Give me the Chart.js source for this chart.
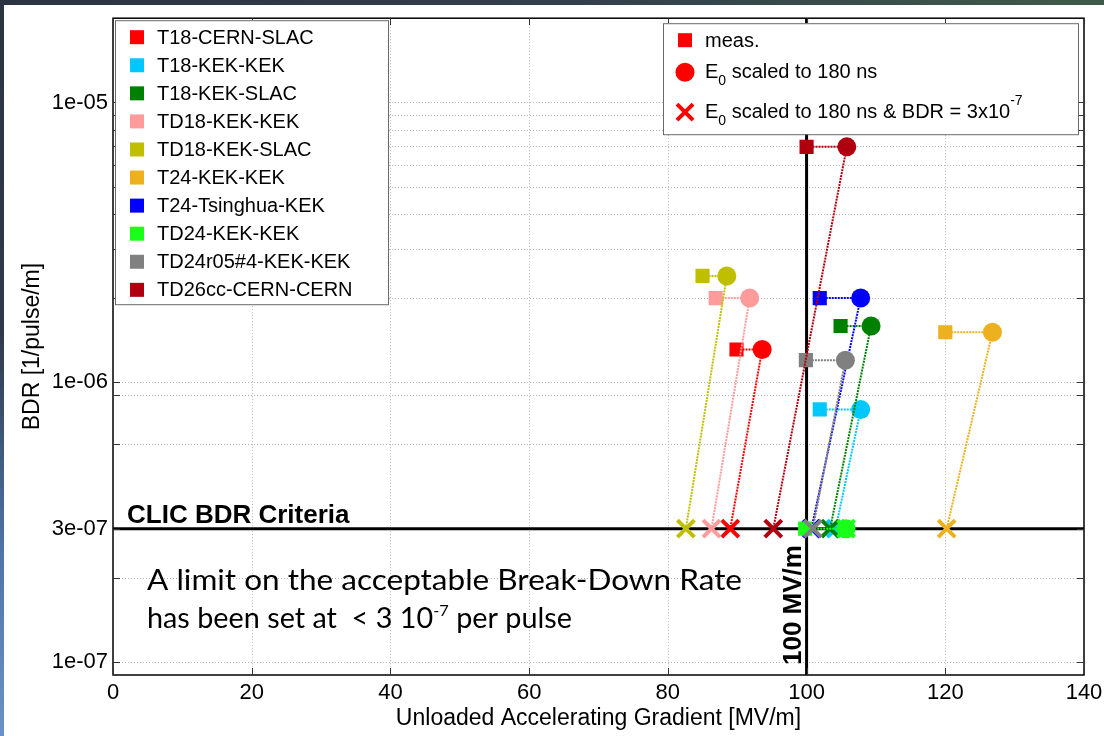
<!DOCTYPE html>
<html>
<head>
<meta charset="utf-8">
<title>BDR vs gradient</title>
<script src="https://cdn.jsdelivr.net/npm/chart.js@4.4.1/dist/chart.umd.min.js"></script>
<style>
  body { margin: 0; width: 1104px; height: 736px; overflow: hidden; position: relative;
         background: linear-gradient(to bottom, #2b3441 0%, #2e3a4a 45%, #4f74a8 75%, #6b92c8 100%); }
  #topstrip { position: absolute; left: 0; top: 0; width: 1104px; height: 5px;
              background: linear-gradient(to right, #2b3441 0%, #34404c 55%, #3f5a48 100%); }
  #panel { position: absolute; left: 4px; top: 5px; width: 1100px; height: 731px; background: #fff; }
  #wrap { position: absolute; left: 0; top: 0; width: 1104px; height: 736px; }
</style>
</head>
<body>
<div id="topstrip"></div>
<div id="panel"></div>
<div id="wrap"><canvas id="grafico" width="1104" height="736"></canvas></div>
<script>
// structures and their colours
const devices = ["T18-CERN-SLAC", "T18-KEK-KEK", "T18-KEK-SLAC", "TD18-KEK-KEK", "TD18-KEK-SLAC",
                 "T24-KEK-KEK", "T24-Tsinghua-KEK", "TD24-KEK-KEK", "TD24r05#4-KEK-KEK", "TD26cc-CERN-CERN"];
const deviceColors = ["#ff0000", "#00c8ff", "#008000", "#ff9b9b", "#bfbf00",
                      "#edb120", "#0000ff", "#1aff1a", "#808080", "#b00010"];

// measured gradient (squares), gradient scaled to 180 ns (circles), measured BDR
const measGradient   = [89.9, 101.9, 104.9, 86.9, 85.0, 120.0, 101.9, 99.8, 99.9, 100.0];
const scaledGradient = [93.6, 107.8, 109.3, 91.8, 88.5, 126.8, 107.8, 105.7, 105.6, 105.8];
const measBDR        = [1.31e-6, 8.0e-7, 1.59e-6, 2.0e-6, 2.4e-6, 1.51e-6, 2.0e-6, 3e-7, 1.2e-6, 6.94e-6];
// gradient scaled to 180 ns and BDR = 3e-7 (crosses)
const criteriaGradient = [89.0, 104.2, 103.4, 86.3, 82.6, 120.2, 100.7, 105.7, 100.9, 95.2];

const criteriaBDR = 3e-7;
const limitGradient = 100;
const xTicks = [0, 20, 40, 60, 80, 100, 120, 140];
const yLabelled = [1e-7, 3e-7, 1e-6, 1e-5];
const yGrid = [1e-7, 2e-7, 3e-7, 6e-7, 9e-7, 1e-6, 2e-6, 3e-6, 4e-6, 5e-6, 6e-6, 7e-6, 8e-6, 9e-6, 1e-5];
const xRange = [0, 140];
const yRange = [9e-8, 2e-5];

const FONT = '"Liberation Sans", Arial, sans-serif';
const BOXFONT = 'Lato, "Open Sans", sans-serif';

// later devices drawn on top (like the original plot)
const datasets = devices.map((name, i) => ({
    label: name,
    data: [
        { x: measGradient[i], y: measBDR[i] },
        { x: scaledGradient[i], y: measBDR[i] },
        { x: criteriaGradient[i], y: criteriaBDR }
    ],
    showLine: true,
    borderColor: deviceColors[i],
    backgroundColor: deviceColors[i],
    borderWidth: 2,
    borderDash: [2, 1],
    pointStyle: ["rect", "circle", "crossRot"],
    pointRadius: [10, 9.5, 12],
    pointBorderWidth: [0, 0, 4],
    pointBackgroundColor: deviceColors[i],
    pointBorderColor: deviceColors[i],
    order: devices.length - i
}));

// CLIC criteria and 100 MV/m lines
datasets.push({
    data: [{ x: xRange[0], y: criteriaBDR }, { x: xRange[1], y: criteriaBDR }],
    showLine: true, borderColor: "#000", borderWidth: 3, pointRadius: 0, order: 50
});
datasets.push({
    data: [{ x: limitGradient, y: yRange[0] }, { x: limitGradient, y: yRange[1] }],
    showLine: true, borderColor: "#000", borderWidth: 3, pointRadius: 0, order: 50
});

function fmtExp(v) {
    return v.toExponential(0).replace(/e([+-])(\d)$/, "e$10$2");
}

const marcoPlugin = {
    id: "marco",
    beforeDatasetsDraw(chart) {
        const ctx = chart.ctx, a = chart.chartArea;
        const xs = chart.scales.x, ys = chart.scales.y;
        ctx.save();
        ctx.strokeStyle = "#b4b4b4";
        ctx.lineWidth = 1;
        ctx.setLineDash([1, 2]);
        yGrid.forEach(v => {
            const y = Math.round(ys.getPixelForValue(v)) + 0.5;
            ctx.beginPath(); ctx.moveTo(a.left, y); ctx.lineTo(a.right, y); ctx.stroke();
        });
        xTicks.slice(1, -1).forEach(v => {
            const x = Math.round(xs.getPixelForValue(v)) + 0.5;
            ctx.beginPath(); ctx.moveTo(x, a.top); ctx.lineTo(x, a.bottom); ctx.stroke();
        });
        ctx.restore();
    },
    afterDraw(chart) {
        const ctx = chart.ctx, a = chart.chartArea;
        const xs = chart.scales.x, ys = chart.scales.y;
        ctx.save();
        // axes box and inner ticks
        ctx.strokeStyle = "#000";
        ctx.lineWidth = 1.5;
        ctx.strokeRect(a.left, a.top, a.right - a.left, a.bottom - a.top);
        ctx.lineWidth = 1;
        ctx.strokeStyle = "#333";
        yGrid.forEach(v => {
            const y = Math.round(ys.getPixelForValue(v)) + 0.5;
            ctx.beginPath();
            ctx.moveTo(a.left, y); ctx.lineTo(a.left + 7, y);
            ctx.moveTo(a.right, y); ctx.lineTo(a.right - 7, y);
            ctx.stroke();
        });
        xTicks.forEach(v => {
            const x = Math.round(xs.getPixelForValue(v)) + 0.5;
            ctx.beginPath();
            ctx.moveTo(x, a.bottom); ctx.lineTo(x, a.bottom - 7);
            ctx.moveTo(x, a.top); ctx.lineTo(x, a.top + 7);
            ctx.stroke();
        });

        // annotations
        const yc = ys.getPixelForValue(criteriaBDR);
        const xl = xs.getPixelForValue(limitGradient);
        ctx.fillStyle = "#000";
        ctx.font = "bold 26px " + FONT;
        ctx.textBaseline = "alphabetic";
        ctx.textAlign = "left";
        ctx.fillText("CLIC BDR Criteria", a.left + 14, yc - 6);

        ctx.save();
        ctx.translate(xl - 6, a.bottom - 10);
        ctx.rotate(-Math.PI / 2);
        ctx.font = "bold 26px " + FONT;
        ctx.fillText("100 MV/m", 0, 0);
        ctx.restore();

        // text box
        const tx = a.left + 34;
        const line1 = "A limit on the acceptable Break-Down Rate";
        ctx.save();
        ctx.font = "28px " + BOXFONT;
        ctx.translate(tx, 0);
        ctx.scale(595 / ctx.measureText(line1).width, 1);
        ctx.fillText(line1, 0, 590);
        ctx.restore();

        ctx.save();
        const p1 = "has been set at  < 3 10", p2 = "-7", p3 = " per pulse";
        ctx.font = "28px " + BOXFONT;
        const w1 = ctx.measureText(p1).width, w3 = ctx.measureText(p3).width;
        ctx.font = "16px " + BOXFONT;
        const w2 = ctx.measureText(p2).width;
        ctx.translate(tx, 0);
        ctx.scale(425 / (w1 + w2 + w3), 1);
        ctx.font = "28px " + BOXFONT;
        ctx.fillText(p1, 0, 628);
        ctx.fillText(p3, w1 + w2, 628);
        ctx.font = "16px " + BOXFONT;
        ctx.fillText(p2, w1, 616);
        ctx.restore();

        // device legend
        const lx = a.left + 2, ly = a.top + 2, lw = 273, lh = 284;
        ctx.fillStyle = "#fff";
        ctx.fillRect(lx, ly, lw, lh);
        ctx.strokeStyle = "#6a6a6a";
        ctx.lineWidth = 1;
        ctx.strokeRect(lx + 0.5, ly + 0.5, lw, lh);
        ctx.font = "20px " + FONT;
        ctx.textBaseline = "middle";
        devices.forEach((name, i) => {
            const cy = ly + 17 + i * 28.07;
            ctx.fillStyle = deviceColors[i];
            ctx.fillRect(lx + 15, cy - 7, 14, 14);
            ctx.fillStyle = "#000";
            ctx.fillText(name, lx + 42, cy + 1);
        });

        // marker legend
        const rx = 663, ry = a.top + 5, rw = 415, rh = 111;
        ctx.fillStyle = "#fff";
        ctx.fillRect(rx, ry, rw, rh);
        ctx.strokeStyle = "#6a6a6a";
        ctx.strokeRect(rx + 0.5, ry + 0.5, rw, rh);
        const mx = rx + 22;
        ctx.fillStyle = "#ff0000";
        ctx.fillRect(mx - 7, ry + 10, 14, 14);
        ctx.beginPath();
        ctx.arc(mx, ry + 49, 9.5, 0, Math.PI * 2);
        ctx.fill();
        ctx.strokeStyle = "#ff0000";
        ctx.lineWidth = 4;
        ctx.beginPath();
        ctx.moveTo(mx - 8, ry + 81); ctx.lineTo(mx + 8, ry + 97);
        ctx.moveTo(mx + 8, ry + 81); ctx.lineTo(mx - 8, ry + 97);
        ctx.stroke();

        ctx.fillStyle = "#000";
        const tx2 = rx + 42;
        ctx.font = "20px " + FONT;
        ctx.fillText("meas.", tx2, ry + 18);
        // E0 lines
        [[ry + 49, " scaled to 180 ns", false], [ry + 89, " scaled to 180 ns & BDR = 3x10", true]].forEach(([cy, txt, sup]) => {
            let x = tx2;
            ctx.font = "20px " + FONT;
            ctx.fillText("E", x, cy);
            x += ctx.measureText("E").width;
            ctx.font = "14px " + FONT;
            ctx.fillText("0", x, cy + 9);
            x += ctx.measureText("0").width;
            ctx.font = "20px " + FONT;
            ctx.fillText(txt, x, cy);
            x += ctx.measureText(txt).width;
            if (sup) {
                ctx.font = "14px " + FONT;
                ctx.fillText("-7", x, cy - 11);
            }
        });
        ctx.restore();
    }
};

new Chart(document.getElementById("grafico").getContext("2d"), {
    type: "scatter",
    data: { datasets: datasets },
    options: {
        responsive: false,
        animation: false,
        devicePixelRatio: 1,
        layout: { padding: { left: 0, top: 18, right: 20, bottom: 0 } },
        plugins: { legend: { display: false }, tooltip: { enabled: false } },
        scales: {
            x: {
                type: "linear",
                min: xRange[0], max: xRange[1],
                afterBuildTicks: s => { s.ticks = xTicks.map(v => ({ value: v })); },
                afterFit: s => { s.height = 61; s.paddingLeft = 0; s.paddingRight = 0; },
                grid: { display: false, drawTicks: false },
                border: { display: false },
                ticks: { color: "#000", padding: 5, autoSkip: false, maxRotation: 0, font: { family: FONT, size: 22 } },
                title: { display: true, text: "Unloaded Accelerating Gradient [MV/m]", color: "#000",
                         padding: { top: 0, bottom: 4 }, font: { family: FONT, size: 23 } }
            },
            y: {
                type: "logarithmic",
                min: yRange[0], max: yRange[1],
                afterBuildTicks: s => { s.ticks = yGrid.map(v => ({ value: v })); },
                afterFit: s => { s.width = 113; },
                grid: { display: false, drawTicks: false },
                border: { display: false },
                ticks: {
                    color: "#000", padding: 5, autoSkip: false,
                    font: { family: FONT, size: 22 },
                    callback: v => yLabelled.includes(v) ? fmtExp(v) : ""
                },
                title: { display: true, text: "BDR [1/pulse/m]", color: "#000",
                         padding: { top: 19, bottom: 0 }, font: { family: FONT, size: 23 } }
            }
        }
    },
    plugins: [marcoPlugin]
});
</script>
</body>
</html>
